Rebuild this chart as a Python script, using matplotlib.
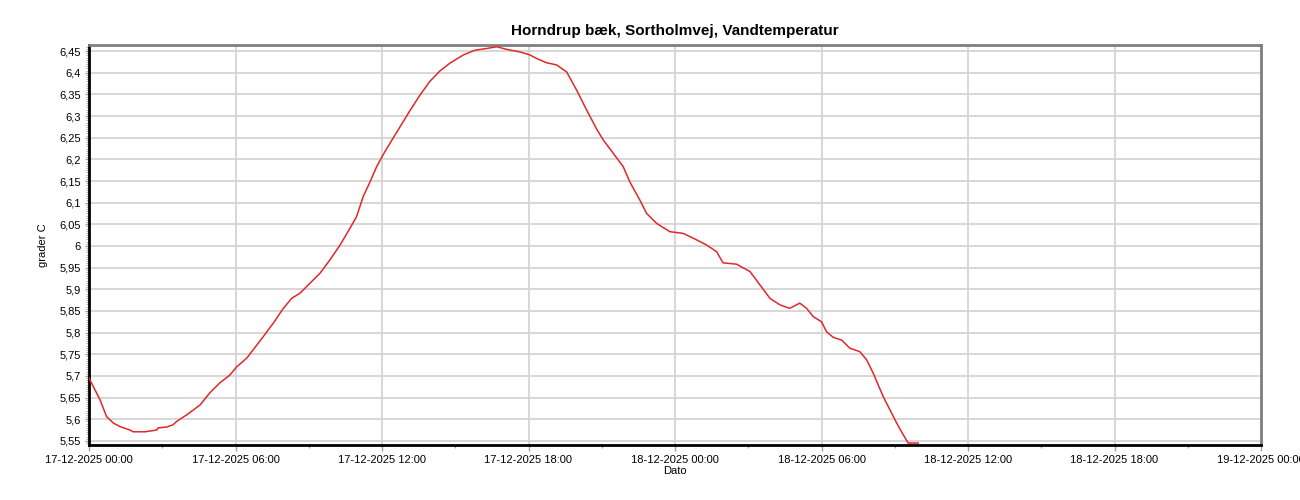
import matplotlib
matplotlib.use("Agg")
import matplotlib.pyplot as plt
import matplotlib.dates as mdates
from matplotlib.ticker import MultipleLocator, FuncFormatter
import numpy as np
import datetime as dt

plt.rcParams['font.family'] = ['Liberation Sans', 'DejaVu Sans']

title = "Horndrup bæk, Sortholmvej, Vandtemperatur"
ylabel = "grader C"
xlabel = "Dato"
start = "2025-12-17 00:00"

hours = [0.00, 0.45, 0.72, 1.00, 1.27, 1.68, 1.81, 2.29, 2.77, 2.83, 3.18, 3.44, 3.59,
         4.00, 4.55, 4.95, 5.36, 5.77, 6.05, 6.46, 6.72, 7.14, 7.55, 7.96, 8.30, 8.64,
         9.05, 9.46, 9.87, 10.28, 10.69, 10.96, 11.23, 11.51, 11.78, 12.12, 12.53, 13.14,
         13.55, 13.96, 14.37, 14.78, 15.33, 15.81, 16.29, 16.70, 17.10, 17.65, 18.06,
         18.33, 18.74, 19.15, 19.56, 19.97, 20.38, 20.79, 21.06, 21.47, 21.88, 22.15,
         22.56, 22.84, 23.25, 23.79, 24.34, 24.89, 25.30, 25.70, 25.97, 26.52, 27.07,
         27.48, 27.89, 28.30, 28.70, 29.11, 29.39, 29.66, 30.00, 30.21, 30.48, 30.82,
         31.16, 31.57, 31.85, 32.12, 32.53, 32.80, 33.08, 33.35, 33.55, 33.96]
temps = [5.695, 5.645, 5.606, 5.591, 5.583, 5.575, 5.571, 5.571, 5.575, 5.580, 5.582,
         5.587, 5.595, 5.610, 5.633, 5.661, 5.684, 5.702, 5.721, 5.741, 5.760, 5.791,
         5.822, 5.856, 5.879, 5.891, 5.914, 5.937, 5.968, 6.002, 6.041, 6.068, 6.114,
         6.148, 6.183, 6.218, 6.256, 6.312, 6.348, 6.380, 6.404, 6.422, 6.441, 6.452,
         6.456, 6.460, 6.454, 6.448, 6.441, 6.433, 6.423, 6.418, 6.402, 6.360, 6.314,
         6.270, 6.245, 6.214, 6.183, 6.148, 6.106, 6.075, 6.052, 6.033, 6.029, 6.014,
         6.002, 5.987, 5.961, 5.958, 5.941, 5.910, 5.879, 5.864, 5.856, 5.868, 5.856,
         5.837, 5.825, 5.802, 5.789, 5.783, 5.764, 5.756, 5.737, 5.706, 5.652, 5.622,
         5.591, 5.564, 5.545, 5.545]

t0 = dt.datetime.strptime(start, "%Y-%m-%d %H:%M")
times = [t0 + dt.timedelta(hours=h) for h in hours]

fig = plt.figure(figsize=(13, 5), dpi=100)
ax = fig.add_axes([89/1300, 1-445/500, (1261-89)/1300, 400/500])

ax.plot(times, temps, color='#e3262b', lw=1.1, zorder=3)

ax.set_xlim(t0, t0 + dt.timedelta(hours=48))
ax.set_ylim(5.5405, 6.464)

ax.xaxis.set_major_locator(mdates.HourLocator(byhour=[0, 6, 12, 18]))
ax.xaxis.set_minor_locator(mdates.HourLocator(byhour=[3, 9, 15, 21]))
ax.xaxis.set_major_formatter(mdates.DateFormatter('%d-%m-%Y %H:%M'))

ax.yaxis.set_major_locator(MultipleLocator(0.05))
ax.yaxis.set_minor_locator(MultipleLocator(0.005))
ax.yaxis.set_major_formatter(FuncFormatter(lambda v, p: f"{round(v, 3):g}".replace('.', ',')))

ax.grid(True, which='major', color='#d4d4d4', lw=1.3, zorder=0)

for s in ['left', 'bottom']:
    ax.spines[s].set_color('black')
    ax.spines[s].set_linewidth(2)
for s in ['top', 'right']:
    ax.spines[s].set_color('#7f7f7f')
    ax.spines[s].set_linewidth(2)

ax.tick_params(axis='both', which='major', labelsize=8, length=4, color='#a0a0a0', width=1, pad=3)
ax.tick_params(axis='x', which='minor', length=2, color='#a0a0a0', width=1)
ax.tick_params(axis='y', which='minor', length=2, color='#b0b0b0', width=0.8)
ax.tick_params(axis='y', which='major', length=3)

ax.set_title(title, fontsize=11, fontweight='bold', pad=7)
ax.set_xlabel(xlabel, fontsize=8, labelpad=1)
ax.set_ylabel(ylabel, fontsize=8, labelpad=8)

fig.savefig("out.png", dpi=100)
